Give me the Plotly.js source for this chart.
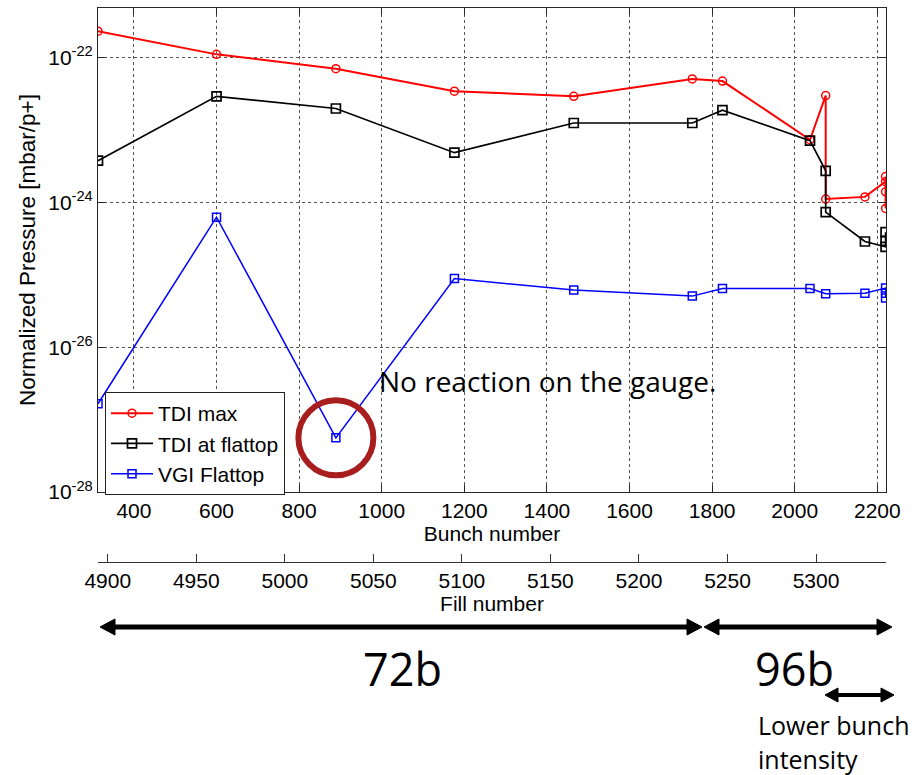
<!DOCTYPE html>
<html>
<head>
<meta charset="utf-8">
<script src="https://cdn.plot.ly/plotly-3.0.1.min.js"></script>
<style>
  html, body { margin: 0; padding: 0; background: #ffffff; }
  #chart { width: 917px; height: 775px; }
</style>
</head>
<body>
<div id="chart"></div>
<script>
// ---------- data ----------
const seriesNames = ["TDI max", "TDI at flattop", "VGI Flattop"];

const bunchTdiMax = [313, 600, 889, 1176, 1465, 1752, 1825, 2037, 2075, 2075, 2170, 2220, 2220, 2220, 2220];
const tdiMax = [2.34e-22, 1.12e-22, 7.1e-23, 3.47e-23, 2.95e-23, 5.13e-23, 4.79e-23, 7.4e-24, 3.02e-23, 1.12e-24, 1.2e-24, 1.95e-24, 2.29e-24, 1.41e-24, 8.3e-25];

const bunchTdiFlat = [313, 600, 889, 1176, 1465, 1752, 1825, 2037, 2075, 2075, 2170, 2220, 2220, 2220];
const tdiFlat = [3.8e-24, 2.95e-23, 2.0e-23, 4.9e-24, 1.26e-23, 1.26e-23, 1.9e-23, 7.2e-24, 2.75e-24, 7.4e-25, 2.9e-25, 2.45e-25, 2.95e-25, 3.9e-25];

const bunchVgi = [313, 600, 889, 1176, 1465, 1752, 1825, 2037, 2075, 2170, 2220, 2220, 2220];
const vgiFlat = [1.66e-27, 6.3e-25, 5.6e-28, 8.9e-26, 6.2e-26, 5.1e-26, 6.5e-26, 6.5e-26, 5.5e-26, 5.6e-26, 6.6e-26, 5.6e-26, 4.8e-26];

const bunchRange = [313, 2221];
const fillRange = [4894.5, 5339.5];
const pressureLogRange = [-28, -21.31];

const yTickVals = [1e-28, 1e-26, 1e-24, 1e-22];
const yTickText = ["10<sup>-28</sup>", "10<sup>-26</sup>", "10<sup>-24</sup>", "10<sup>-22</sup>"];

const noReactionIndex = 2; // the VGI point with no gauge reaction

const texts = {
  yTitle: "Normalized Pressure [mbar/p+]",
  xTitle: "Bunch number",
  fillTitle: "Fill number",
  note: "No reaction on the gauge.",
  b72: "72b",
  b96: "96b",
  lower1: "Lower bunch",
  lower2: "intensity"
};

// ---------- figure ----------
const AX_FONT = "Liberation Sans, Arial, sans-serif";
const NOTE_FONT = "Open Sans, Noto Sans, sans-serif";

const traces = [
  {
    name: seriesNames[0], x: bunchTdiMax, y: tdiMax, type: "scatter", mode: "lines+markers",
    line: { color: "#ff0000", width: 2 },
    marker: { symbol: "circle-open", size: 8, color: "#ff0000", line: { width: 1.5 } }
  },
  {
    name: seriesNames[1], x: bunchTdiFlat, y: tdiFlat, type: "scatter", mode: "lines+markers",
    line: { color: "#000000", width: 1.7 },
    marker: { symbol: "square-open", size: 9, color: "#000000", line: { width: 1.7 } }
  },
  {
    name: seriesNames[2], x: bunchVgi, y: vgiFlat, type: "scatter", mode: "lines+markers",
    line: { color: "#0000ff", width: 1.5 },
    marker: { symbol: "square-open", size: 8, color: "#0000ff", line: { width: 1.5 } }
  },
  // registers the fill-number axis
  { x: [], y: [], xaxis: "x2", yaxis: "y", type: "scatter", mode: "markers", showlegend: false, hoverinfo: "skip" }
];

const W = 917, H = 775;
const mL = 98, mR = 31, mT = 8, mB = 5;
const pw = W - mL - mR, ph = H - mT - mB;
const px = v => (v - mL) / pw;        // pixel -> paper x
const py = v => (H - mB - v) / ph;     // pixel -> paper y

const plotBottom = 492;
const fillAxisY = 562;
const yDom0 = py(plotBottom);

// data -> paper, through the axis ranges above
const bx = b => (b - bunchRange[0]) / (bunchRange[1] - bunchRange[0]);
const ly = v => yDom0 + (Math.log10(v) - pressureLogRange[0]) / (pressureLogRange[1] - pressureLogRange[0]) * (1 - yDom0);

const circR = 37.5;
const cx = bx(bunchVgi[noReactionIndex]);
const cy = ly(vgiFlat[noReactionIndex]);

// double-headed arrow built from shapes (pixel inputs -> paper)
function doubleArrow(x0, x1, y, w, headLen, headHalf) {
  const line = {
    type: "line", xref: "paper", yref: "paper",
    x0: px(x0 + headLen - 1), x1: px(x1 - headLen + 1), y0: py(y), y1: py(y),
    line: { color: "#000000", width: w }, layer: "above"
  };
  const head = (tip, back) => ({
    type: "path", xref: "paper", yref: "paper", layer: "above",
    path: `M ${px(tip)} ${py(y)} L ${px(back)} ${py(y - headHalf)} L ${px(back)} ${py(y + headHalf)} Z`,
    fillcolor: "#000000", line: { color: "#000000", width: 1 }
  });
  return [line, head(x0, x0 + headLen), head(x1, x1 - headLen)];
}

const shapes = [
  {
    type: "circle", xref: "paper", yref: "paper",
    x0: cx - circR / pw, x1: cx + circR / pw,
    y0: cy - circR / ph, y1: cy + circR / ph,
    line: { color: "#a81e1e", width: 6 }, layer: "above"
  },
  ...doubleArrow(100, 702, 627, 5, 15, 8),
  ...doubleArrow(704, 892, 627, 5, 15, 8),
  ...doubleArrow(825, 894, 695, 4, 13, 7)
];

const layout = {
  width: W, height: H,
  margin: { l: mL, r: mR, t: mT, b: mB, pad: 0 },
  paper_bgcolor: "#ffffff", plot_bgcolor: "#ffffff",
  font: { family: AX_FONT, size: 21, color: "#000000" },
  showlegend: true,
  legend: {
    x: px(105), y: py(392), xanchor: "left", yanchor: "top",
    bgcolor: "#ffffff", bordercolor: "#222222", borderwidth: 1,
    font: { family: AX_FONT, size: 21, color: "#000000" },
    itemwidth: 42, tracegroupgap: 0
  },
  xaxis: {
    type: "linear", range: bunchRange, tick0: 0, dtick: 200,
    showline: true, linecolor: "#262626", linewidth: 1, mirror: "ticks",
    ticks: "inside", ticklen: 7, tickcolor: "#262626",
    showgrid: true, gridcolor: "#555555", griddash: "dot", gridwidth: 1,
    zeroline: false, automargin: false,
    tickfont: { family: AX_FONT, size: 21 },
    title: { text: texts.xTitle, font: { family: AX_FONT, size: 21 }, standoff: 4 }
  },
  xaxis2: {
    type: "linear", range: fillRange, tick0: 4900, dtick: 50,
    overlaying: "x", anchor: "free", position: py(fillAxisY), side: "bottom",
    showline: true, linecolor: "#333333", linewidth: 1,
    ticks: "inside", ticklen: 8, tickcolor: "#333333",
    showgrid: false, zeroline: false, automargin: false,
    tickfont: { family: AX_FONT, size: 21 },
    title: { text: texts.fillTitle, font: { family: AX_FONT, size: 21 }, standoff: 2 }
  },
  yaxis: {
    type: "log", range: pressureLogRange,
    tickmode: "array", tickvals: yTickVals, ticktext: yTickText,
    domain: [yDom0, 1],
    showline: true, linecolor: "#262626", linewidth: 1, mirror: "ticks",
    ticks: "inside", ticklen: 7, tickcolor: "#262626",
    showgrid: true, gridcolor: "#555555", griddash: "dot", gridwidth: 1,
    zeroline: false, automargin: false,
    tickfont: { family: AX_FONT, size: 21 },
    title: { text: texts.yTitle, font: { family: AX_FONT, size: 22.5 }, standoff: 6 }
  },
  shapes: shapes,
  annotations: [
    { xref: "paper", yref: "paper", x: px(377), y: py(381), xanchor: "left", yanchor: "middle",
      text: texts.note, showarrow: false, font: { family: NOTE_FONT, size: 28, color: "#000000" } },
    { xref: "paper", yref: "paper", x: px(402), y: py(668), xanchor: "center", yanchor: "middle",
      text: texts.b72, showarrow: false, font: { family: NOTE_FONT, size: 45, color: "#000000" } },
    { xref: "paper", yref: "paper", x: px(794), y: py(668), xanchor: "center", yanchor: "middle",
      text: texts.b96, showarrow: false, font: { family: NOTE_FONT, size: 45, color: "#000000" } },
    { xref: "paper", yref: "paper", x: px(756), y: py(725), xanchor: "left", yanchor: "middle",
      text: texts.lower1, showarrow: false, font: { family: NOTE_FONT, size: 25, color: "#000000" } },
    { xref: "paper", yref: "paper", x: px(756), y: py(759), xanchor: "left", yanchor: "middle",
      text: texts.lower2, showarrow: false, font: { family: NOTE_FONT, size: 25, color: "#000000" } }
  ]
};

Plotly.newPlot("chart", traces, layout, { displayModeBar: false, staticPlot: true });
</script>
</body>
</html>
